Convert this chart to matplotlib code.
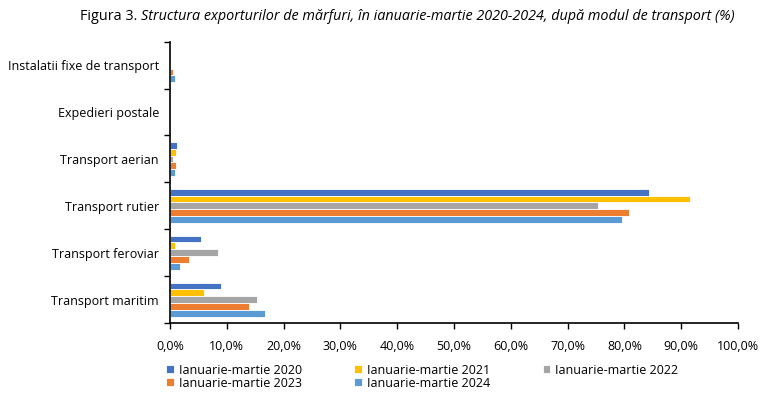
import numpy as np
import matplotlib.pyplot as plt
from matplotlib.ticker import FuncFormatter, FixedLocator

plt.rcParams['font.family'] = ['Open Sans', 'DejaVu Sans']

# categories from bottom to top
categories = ['Transport maritim', 'Transport feroviar', 'Transport rutier',
              'Transport aerian', 'Expedieri postale', 'Instalatii fixe de transport']
series = ['Ianuarie-martie 2020', 'Ianuarie-martie 2021', 'Ianuarie-martie 2022',
          'Ianuarie-martie 2023', 'Ianuarie-martie 2024']

v2020 = [9.0, 5.5, 84.3, 1.3, 0.0, 0.0]
v2021 = [6.0, 0.9, 91.5, 1.1, 0.0, 0.0]
v2022 = [15.3, 8.5, 75.4, 0.6, 0.0, 0.0]
v2023 = [13.9, 3.3, 80.8, 1.1, 0.0, 0.6]
v2024 = [16.7, 1.8, 79.6, 0.8, 0.0, 0.9]

colors = ['#4472C4', '#FFC000', '#A5A5A5', '#ED7D31', '#5B9BD5']

fig = plt.figure(figsize=(7.63, 3.93), dpi=100)
ax = fig.add_axes([0.2228, 0.178, 0.7444, 0.716])

y = np.arange(len(categories))
h = 0.145
all_vals = [v2020, v2021, v2022, v2023, v2024]
bars = []
for j, vals in enumerate(all_vals):
    b = ax.barh(y + (2 - j) * h, vals, height=h, color=colors[j],
                edgecolor='white', linewidth=0.6, label=series[j])
    bars.append(b)

ax.set_xlim(0, 100)
ax.set_ylim(-0.5, len(categories) - 0.5)
ax.set_xticks(np.arange(0, 101, 10))
ax.xaxis.set_major_formatter(FuncFormatter(lambda v, p: f'{v:.1f}%'.replace('.', ',')))
ax.set_yticks(y)
ax.set_yticklabels(categories)
ax.yaxis.set_minor_locator(FixedLocator(np.arange(-0.5, len(categories), 1)))
ax.tick_params(axis='y', which='major', length=0, pad=8, labelsize=9)
ax.tick_params(axis='y', which='minor', length=4, width=1)
ax.tick_params(axis='x', which='major', length=4, width=1, labelsize=9, pad=8)

for s in ['top', 'right']:
    ax.spines[s].set_visible(False)
ax.spines['left'].set_linewidth(1.2)
ax.spines['bottom'].set_linewidth(1.2)

# title: regular prefix + italic rest, placed side by side
t1 = fig.text(80 / 763, 1 - 16 / 393, 'Figura 3. ', fontsize=10.4, ha='left', va='center')
fig.canvas.draw()
bb = t1.get_window_extent()
fig.text(bb.x1 / fig.bbox.width, 1 - 16 / 393,
         'Structura exporturilor de mărfuri, în ianuarie-martie 2020-2024, după modul de transport (%)',
         fontsize=10.4, style='italic', ha='left', va='center')

order = [0, 3, 1, 4, 2]
leg = fig.legend([bars[i] for i in order], [series[i] for i in order],
                 loc='upper left', bbox_to_anchor=(0.218, 0.075), ncol=3,
                 frameon=False, fontsize=9, handlelength=0.6, handleheight=0.6,
                 handletextpad=0.4, columnspacing=4.2, labelspacing=0.0,
                 borderpad=0, borderaxespad=0)

fig.savefig('out.png', dpi=100)
